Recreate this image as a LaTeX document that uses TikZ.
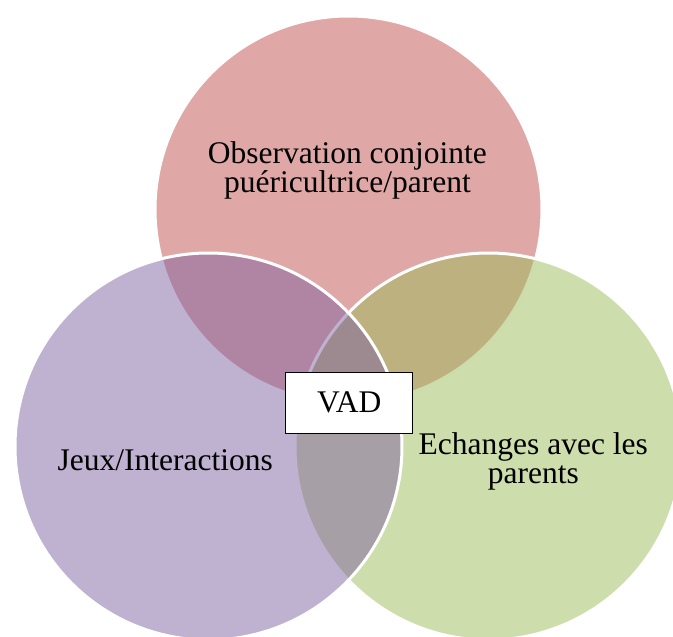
\documentclass[tikz,border=0pt]{standalone}
\usepackage{fontspec}
\setmainfont{Liberation Serif}
\definecolor{topc}{HTML}{C0504D}
\definecolor{leftc}{HTML}{8064A2}
\definecolor{rightc}{HTML}{9BBB59}
\tikzset{
  venn/.style={circle, minimum size=387pt, inner sep=0pt, outer sep=0pt,
    fill opacity=0.5, draw=white, draw opacity=1, line width=3pt},
  lbl/.style={align=center, inner sep=0pt, anchor=base, text=black,
    font=\fontsize{31.5}{29.5}\selectfont},
  vadbox/.style={draw=black, fill=white, line width=1.2pt, minimum width=127pt,
    minimum height=60.7pt, inner sep=0pt, font=\fontsize{31.5}{29.5}\selectfont}
}
\begin{document}
\begin{tikzpicture}[x=1pt, y=-1pt]
\useasboundingbox (0,0) rectangle (673,637);
\clip (0,0) rectangle (673,637);
\node[venn, fill=topc] (ctop) at (348.5,209.5) {};
\node[venn, fill=rightc] (cright) at (488.5,446.5) {};
\node[venn, fill=leftc] (cleft) at (208.5,446.5) {};
\node[lbl] (ttop) at (347.4,192.7) {Observation conjointe\\puéricultrice/parent};
\node[lbl] (tleft) at (165.3,470.7) {Jeux/Interactions};
\node[lbl] (tright) at (533.3,483.5) {Echanges avec les\\parents};
\node[vadbox] (vad) at (349.2,403) {};
\node[lbl] (tvad) at (349.2,412.7) {VAD};
\end{tikzpicture}
\end{document}
